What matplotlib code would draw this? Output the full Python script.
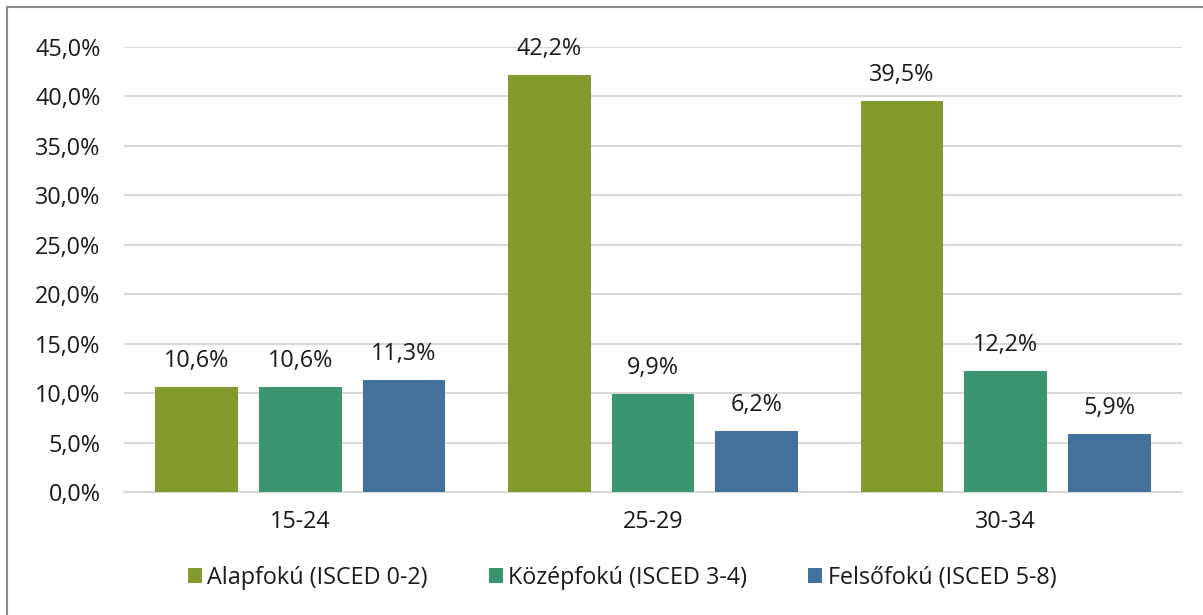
"""
grouped bar chart: education level shares by age group
"""
import numpy as np
import matplotlib.pyplot as plt
from matplotlib.patches import Rectangle

categories = ['15-24', '25-29', '30-34']
series_names = ['Alapfokú (ISCED 0-2)', 'Középfokú (ISCED 3-4)', 'Felsőfokú (ISCED 5-8)']
alapfoku = [10.6, 42.2, 39.5]
kozepfoku = [10.6, 9.9, 12.2]
felsofoku = [11.3, 6.2, 5.9]
yticks = np.arange(0, 46, 5)

colors = ['#839A2C', '#3A9570', '#44709C']
grid_col = '#D9D9D9'
text_col = '#1a1a1a'
fsize = 16.8

plt.rcParams['font.family'] = ['Open Sans', 'DejaVu Sans']

fig = plt.figure(figsize=(12.03, 6.15), dpi=100)
ax = fig.add_axes([124 / 1203, 1 - 492 / 615, (1182 - 124) / 1203, (492 - 47) / 615])

index = np.arange(len(categories))
width = 0.235
step = 0.294

for k, (vals, name) in enumerate(zip([alapfoku, kozepfoku, felsofoku], series_names)):
    pos = index + (k - 1) * step
    ax.bar(pos, vals, width, color=colors[k], label=name, zorder=3)
    for x, v in zip(pos, vals):
        ax.annotate(f'{v:.1f}%'.replace('.', ','), (x, v), xytext=(0, 10),
                    textcoords='offset points', ha='center', va='bottom',
                    fontsize=fsize, color=text_col)

ax.set_xlim(-0.5, len(categories) - 0.5)
ax.set_ylim(0, 45)
ax.set_yticks(yticks)
ax.set_yticklabels([f'{t:.1f}%'.replace('.', ',') for t in yticks])
ax.set_xticks(index)
ax.set_xticklabels(categories)
ax.yaxis.grid(True, color=grid_col, linewidth=1.5, zorder=0)
ax.set_axisbelow(True)

for side in ['top', 'right', 'left']:
    ax.spines[side].set_visible(False)
ax.spines['bottom'].set_color(grid_col)
ax.spines['bottom'].set_linewidth(1.5)
ax.tick_params(axis='both', length=0, labelsize=fsize, colors=text_col)
ax.tick_params(axis='y', pad=17)
ax.tick_params(axis='x', pad=13)

ax.legend(loc='center', bbox_to_anchor=(622 / 1203, 1 - 578 / 615),
          bbox_transform=fig.transFigure, ncol=3, frameon=False,
          fontsize=fsize, handlelength=0.6, handleheight=0.6,
          handletextpad=0.25, columnspacing=2.6, labelcolor=text_col)

# outer chart frame (cut at right and bottom as in the source)
fig.patches.append(Rectangle((7 / 1203, -0.1), 1.2, 1 - 7 / 615 + 0.1,
                             transform=fig.transFigure, fill=False,
                             edgecolor='#8c8c8c', linewidth=1.5))

plt.savefig('out.png', dpi=100)
